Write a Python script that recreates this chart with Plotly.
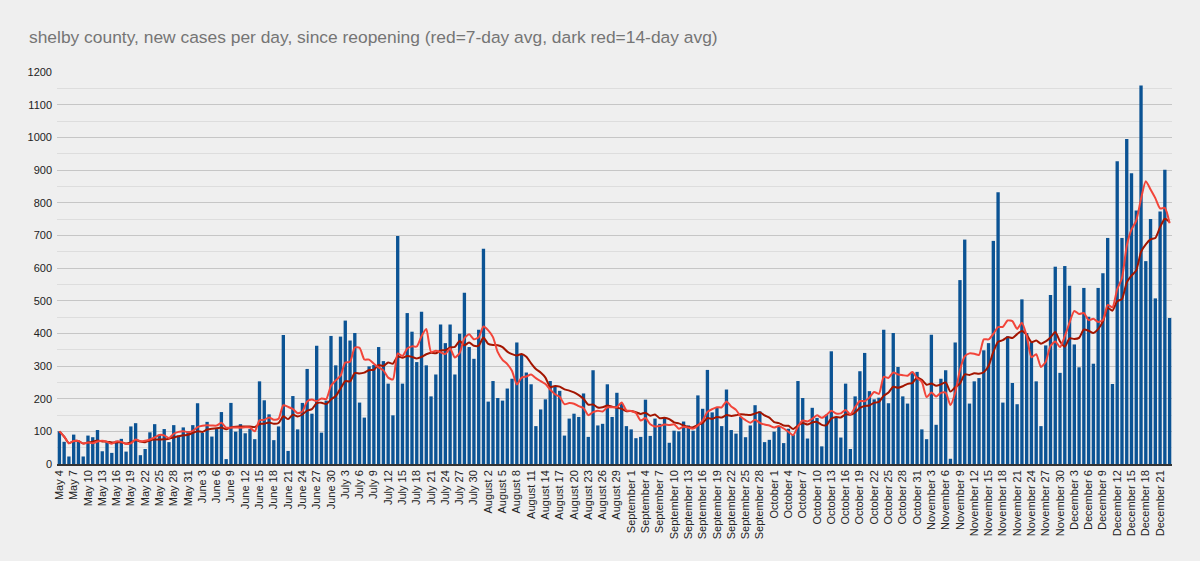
import pandas as pd
import plotly.graph_objects as go

# ---- data (new cases per day, May 4 .. December 23) ----
may = [100, 68, 23, 90, 71, 23, 87, 82, 104, 39, 67, 34, 71, 77, 38, 115, 125, 27, 46, 97,
       122, 90, 107, 67, 119, 87, 112, 100]
june = [119, 186, 95, 129, 84, 110, 159, 15, 187, 99, 122, 94, 107, 76, 253, 195, 152, 73, 115, 395,
        40, 208, 106, 187, 291, 154, 362, 96, 194, 392]
july = [302, 390, 439, 378, 401, 188, 142, 299, 303, 358, 315, 246, 149, 698, 246, 462, 405, 312, 466, 302,
        207, 274, 427, 370, 427, 274, 399, 524, 358, 322, 411]
august = [659, 191, 254, 202, 194, 231, 261, 372, 336, 280, 244, 116, 167, 198, 254, 236, 224, 87, 139, 154,
          144, 216, 83, 287, 118, 123, 244, 144, 218, 185, 116]
september = [106, 79, 83, 197, 86, 139, 123, 141, 65, 102, 100, 130, 118, 102, 210, 169, 288, 158, 172, 116,
             228, 104, 93, 144, 82, 118, 180, 161, 67, 74]
october = [99, 116, 64, 108, 89, 254, 202, 78, 172, 141, 54, 151, 345, 141, 81, 246, 46, 207, 284, 340,
           223, 198, 203, 411, 186, 401, 297, 207, 185, 282, 282]
november = [106, 76, 396, 120, 261, 287, 16, 372, 563, 687, 185, 253, 263, 348, 370, 683, 832, 188, 391, 248,
            183, 504, 401, 373, 253, 116, 363, 517, 604, 279]
december = [606, 546, 366, 296, 539, 451, 307, 539, 584, 692, 245, 927, 692, 995, 890, 776, 1159, 621, 750, 507,
            773, 901, 447]

cases = may + june + july + august + september + october + november + december
dates = pd.date_range("2020-05-04", periods=len(cases), freq="D")
categories = [f"{d:%B} {d.day}" for d in dates]
tick_labels = categories[::3]

s = pd.Series(cases)
avg7 = s.rolling(7, min_periods=1).mean().round(1).tolist()
avg14 = s.rolling(14, min_periods=1).mean().round(1).tolist()

fig = go.Figure()
fig.add_trace(go.Bar(x=categories, y=cases, marker=dict(color="#0b5394", line=dict(width=0)),
                     name="new cases"))
fig.add_trace(go.Scatter(x=categories, y=avg14, mode="lines", name="14-day avg",
                         line=dict(color="#a31500", width=2, shape="spline", smoothing=0.6)))
fig.add_trace(go.Scatter(x=categories, y=avg7, mode="lines", name="7-day avg",
                         line=dict(color="#f2453a", width=2, shape="spline", smoothing=0.6)))

fig.update_layout(
    width=1200, height=561,
    paper_bgcolor="#efefef", plot_bgcolor="#efefef",
    margin=dict(l=57, r=28, t=72, b=97),
    showlegend=False,
    bargap=0.3,
    font=dict(family="Liberation Sans, Arial, sans-serif", size=11, color="#222222"),
    title=dict(text="shelby county, new cases per day, since reopening (red=7-day avg, dark red=14-day avg)",
               x=29 / 1200, xref="container", xanchor="left",
               y=1 - 37 / 561, yref="container", yanchor="middle",
               font=dict(family="Liberation Sans, Arial, sans-serif", size=17.4, color="#757575")),
)
fig.update_xaxes(
    type="category", tickmode="array", tickvals=tick_labels, ticktext=tick_labels,
    tickangle=-90, showgrid=False, ticks="", showline=True, linecolor="#333333", linewidth=1.5,
    range=[-0.5, len(cases) - 0.5], tickfont=dict(size=11, color="#222222"),
)
fig.update_yaxes(
    range=[0, 1200], dtick=100, showgrid=True, gridcolor="#c6c6c6", gridwidth=1,
    minor=dict(dtick=50, showgrid=True, gridcolor="#dddddd", gridwidth=1),
    zeroline=False, ticks="", ticklabelstandoff=4, tickfont=dict(size=11, color="#222222"),
)

fig.write_html(
    "out.html",
    config={"displayModeBar": False},
    post_script="document.body.style.margin='0';document.body.style.background='#efefef';"
                "document.body.style.overflow='hidden';",
)
